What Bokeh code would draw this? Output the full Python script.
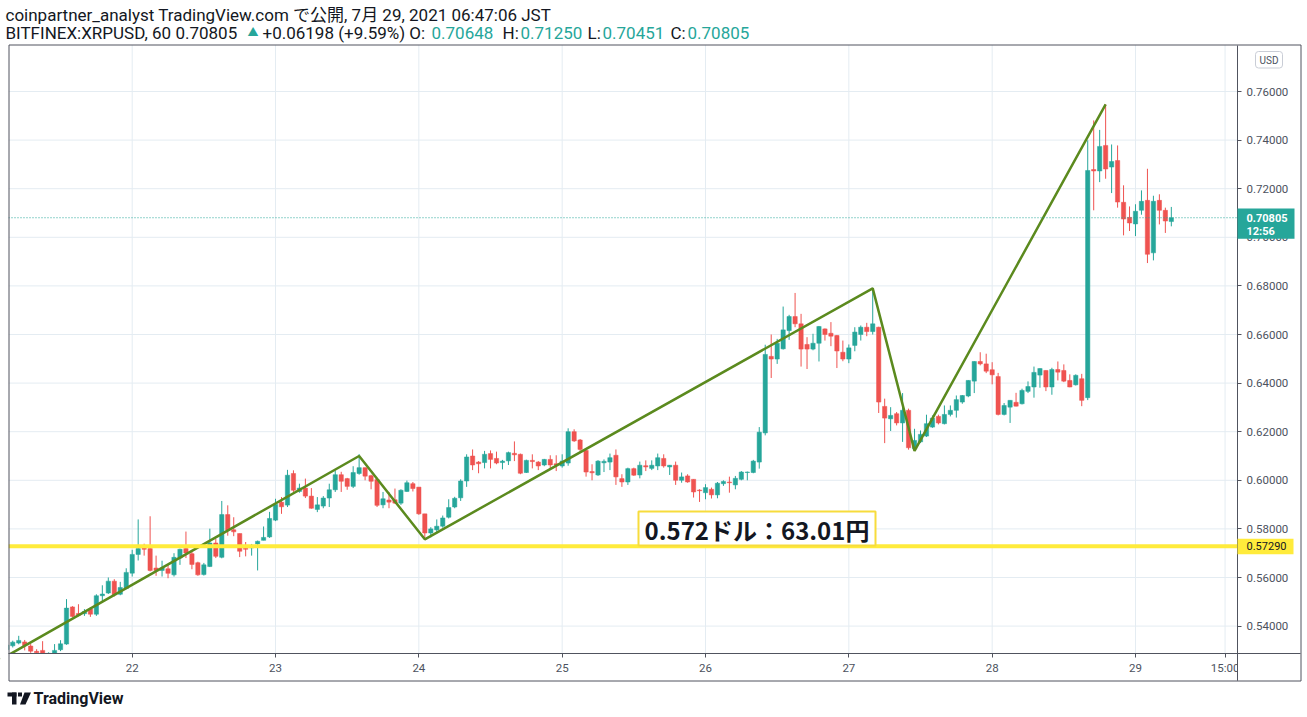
import pandas as pd
from bokeh.plotting import figure
from bokeh.models import (ColumnDataSource, FixedTicker, NumeralTickFormatter,
                          Label, BoxAnnotation, PolyAnnotation)
from bokeh.embed import file_html
from bokeh.resources import INLINE

# ---------------- data ----------------
title_line = "coinpartner_analyst TradingView.com で公開, 7月 29, 2021 06:47:06 JST"
symbol_text = "BITFINEX:XRPUSD, 60 0.70805"
change_text = "+0.06198 (+9.59%) O:"
ohlc_names = ["H:", "L:", "C:"]
ohlc_values = ["0.70648", "0.71250", "0.70451", "0.70805"]
note_text = "0.572ドル：63.01円"

first_candle = "2021-07-21 03:00"   # hourly candles
opens = [
    0.5303, 0.5319, 0.5330, 0.5335, 0.5318, 0.5296, 0.5300, 0.5285, 0.5288, 0.5303,
    0.5326, 0.5479, 0.5452, 0.5451, 0.5470, 0.5449, 0.5525, 0.5536, 0.5585, 0.5531,
    0.5555, 0.5618, 0.5695, 0.5720, 0.5719, 0.5639, 0.5629, 0.5636, 0.5611, 0.5680,
    0.5719, 0.5698, 0.5661, 0.5612, 0.5645, 0.5742, 0.5683, 0.5859, 0.5796, 0.5781,
    0.5720, 0.5722, 0.5738, 0.5753, 0.5767, 0.5836, 0.5910, 0.5898, 0.6028, 0.5954,
    0.5968, 0.5935, 0.5880, 0.5894, 0.5927, 0.5961, 0.6023, 0.6007, 0.5975, 0.6028,
    0.6052, 0.6019, 0.6003, 0.5899, 0.5919, 0.5920, 0.5906, 0.5954, 0.5986, 0.5972,
    0.5862, 0.5783, 0.5796, 0.5811, 0.5848, 0.5890, 0.5928, 0.5997, 0.6100, 0.6075,
    0.6073, 0.6110, 0.6090, 0.6073, 0.6080, 0.6111, 0.6107, 0.6032, 0.6082, 0.6075,
    0.6063, 0.6086, 0.6068, 0.6059, 0.6071, 0.6200, 0.6166, 0.6123, 0.6036, 0.6022,
    0.6072, 0.6075, 0.6103, 0.6007, 0.5993, 0.6048, 0.6022, 0.6060, 0.6049, 0.6059,
    0.6090, 0.6055, 0.6062, 0.6000, 0.6018, 0.6004, 0.5960, 0.5949, 0.5963, 0.5940,
    0.5986, 0.5993, 0.5981, 0.6004, 0.6032, 0.6032, 0.6075, 0.6195, 0.6510, 0.6499,
    0.6541, 0.6616, 0.6674, 0.6644, 0.6559, 0.6540, 0.6564, 0.6623, 0.6605, 0.6596,
    0.6527, 0.6499, 0.6555, 0.6600, 0.6630, 0.6612, 0.6630, 0.6304, 0.6253, 0.6274,
    0.6236, 0.6288, 0.6130, 0.6158, 0.6182, 0.6219, 0.6263, 0.6233, 0.6271, 0.6288,
    0.6322, 0.6347, 0.6408, 0.6489, 0.6479, 0.6455, 0.6427, 0.6271, 0.6301, 0.6321,
    0.6315, 0.6366, 0.6384, 0.6433, 0.6452, 0.6384, 0.6456, 0.6452, 0.6411, 0.6393,
    0.6418, 0.6340, 0.7279, 0.7273, 0.7378, 0.7289, 0.7316, 0.7144, 0.7082, 0.7055,
    0.7111, 0.7152, 0.6936, 0.7152, 0.7111, 0.70648,
]
highs = [
    0.5330, 0.5340, 0.5360, 0.5343, 0.5326, 0.5305, 0.5338, 0.5292, 0.5326, 0.5342,
    0.5511, 0.5482, 0.5490, 0.5470, 0.5478, 0.5531, 0.5568, 0.5600, 0.5593, 0.5582,
    0.5638, 0.5714, 0.5839, 0.5739, 0.5852, 0.5690, 0.5669, 0.5652, 0.5700, 0.5719,
    0.5789, 0.5705, 0.5665, 0.5660, 0.5801, 0.5759, 0.5915, 0.5897, 0.5848, 0.5781,
    0.5746, 0.5738, 0.5752, 0.5810, 0.5870, 0.5924, 0.5931, 0.6043, 0.6041, 0.5986,
    0.6007, 0.5968, 0.5931, 0.5935, 0.5986, 0.6040, 0.6035, 0.6010, 0.6058, 0.6108,
    0.6052, 0.6023, 0.6010, 0.5952, 0.5952, 0.5966, 0.5963, 0.5999, 0.5993, 0.5972,
    0.5862, 0.5807, 0.5839, 0.5855, 0.5922, 0.5932, 0.6004, 0.6107, 0.6127, 0.6079,
    0.6121, 0.6123, 0.6118, 0.6084, 0.6118, 0.6160, 0.6110, 0.6085, 0.6107, 0.6079,
    0.6088, 0.6103, 0.6103, 0.6107, 0.6214, 0.6210, 0.6170, 0.6127, 0.6066, 0.6083,
    0.6086, 0.6110, 0.6127, 0.6025, 0.6052, 0.6052, 0.6077, 0.6082, 0.6082, 0.6110,
    0.6107, 0.6063, 0.6077, 0.6032, 0.6025, 0.6004, 0.5963, 0.5984, 0.5970, 0.5993,
    0.6000, 0.6015, 0.6018, 0.6038, 0.6036, 0.6084, 0.6219, 0.6558, 0.6600, 0.6582,
    0.6715, 0.6681, 0.6771, 0.6685, 0.6589, 0.6603, 0.6635, 0.6625, 0.6651, 0.6598,
    0.6575, 0.6559, 0.6630, 0.6637, 0.6648, 0.6792, 0.6632, 0.6336, 0.6301, 0.6281,
    0.6359, 0.6295, 0.6212, 0.6205, 0.6270, 0.6267, 0.6270, 0.6308, 0.6308, 0.6349,
    0.6351, 0.6412, 0.6490, 0.6527, 0.6521, 0.6486, 0.6442, 0.6318, 0.6330, 0.6360,
    0.6377, 0.6407, 0.6468, 0.6461, 0.6453, 0.6463, 0.6489, 0.6477, 0.6436, 0.6436,
    0.6438, 0.7399, 0.7481, 0.7442, 0.7547, 0.7382, 0.7378, 0.7214, 0.7127, 0.7136,
    0.7193, 0.7282, 0.7171, 0.7177, 0.7122, 0.71250,
]
lows = [
    0.5290, 0.5312, 0.5325, 0.5300, 0.5290, 0.5280, 0.5270, 0.5275, 0.5280, 0.5297,
    0.5323, 0.5437, 0.5440, 0.5442, 0.5438, 0.5442, 0.5500, 0.5532, 0.5522, 0.5527,
    0.5552, 0.5604, 0.5670, 0.5690, 0.5625, 0.5607, 0.5604, 0.5597, 0.5604, 0.5652,
    0.5680, 0.5634, 0.5607, 0.5608, 0.5643, 0.5680, 0.5679, 0.5772, 0.5770, 0.5684,
    0.5687, 0.5690, 0.5629, 0.5753, 0.5763, 0.5832, 0.5862, 0.5890, 0.5952, 0.5949,
    0.5927, 0.5883, 0.5869, 0.5885, 0.5890, 0.5952, 0.5952, 0.5961, 0.5968, 0.6023,
    0.6000, 0.5963, 0.5890, 0.5885, 0.5885, 0.5903, 0.5899, 0.5952, 0.5954, 0.5858,
    0.5761, 0.5765, 0.5786, 0.5805, 0.5843, 0.5885, 0.5915, 0.5973, 0.6042, 0.6029,
    0.6049, 0.6049, 0.6066, 0.6045, 0.6063, 0.6079, 0.6025, 0.6030, 0.6049, 0.6042,
    0.6058, 0.6045, 0.6038, 0.6052, 0.6060, 0.6158, 0.6121, 0.6015, 0.6000, 0.6018,
    0.6034, 0.6042, 0.5981, 0.5973, 0.5981, 0.6018, 0.6008, 0.6038, 0.6042, 0.6042,
    0.6052, 0.6022, 0.5981, 0.5990, 0.5990, 0.5929, 0.5911, 0.5922, 0.5925, 0.5926,
    0.5977, 0.5949, 0.5963, 0.6000, 0.6000, 0.6029, 0.6048, 0.6185, 0.6421, 0.6479,
    0.6538, 0.6578, 0.6630, 0.6468, 0.6458, 0.6535, 0.6489, 0.6575, 0.6552, 0.6462,
    0.6490, 0.6482, 0.6531, 0.6575, 0.6593, 0.6600, 0.6277, 0.6153, 0.6203, 0.6226,
    0.6158, 0.6126, 0.6121, 0.6153, 0.6178, 0.6216, 0.6230, 0.6230, 0.6263, 0.6258,
    0.6315, 0.6342, 0.6359, 0.6473, 0.6441, 0.6395, 0.6267, 0.6267, 0.6236, 0.6304,
    0.6312, 0.6359, 0.6340, 0.6381, 0.6367, 0.6352, 0.6411, 0.6404, 0.6383, 0.6390,
    0.6305, 0.6330, 0.7111, 0.7227, 0.7241, 0.7182, 0.7122, 0.7008, 0.7026, 0.7005,
    0.7093, 0.6894, 0.6905, 0.7053, 0.7018, 0.70451,
]
closes = [
    0.5322, 0.5334, 0.5341, 0.5320, 0.5297, 0.5290, 0.5285, 0.5288, 0.5300, 0.5327,
    0.5474, 0.5440, 0.5445, 0.5460, 0.5449, 0.5525, 0.5532, 0.5585, 0.5529, 0.5559,
    0.5621, 0.5695, 0.5719, 0.5716, 0.5629, 0.5629, 0.5639, 0.5617, 0.5683, 0.5716,
    0.5701, 0.5654, 0.5611, 0.5652, 0.5742, 0.5687, 0.5859, 0.5794, 0.5788, 0.5708,
    0.5716, 0.5724, 0.5749, 0.5765, 0.5843, 0.5901, 0.5891, 0.6021, 0.5959, 0.5968,
    0.5935, 0.5885, 0.5899, 0.5927, 0.5961, 0.6023, 0.5996, 0.5975, 0.6032, 0.6052,
    0.6017, 0.5996, 0.5897, 0.5924, 0.5910, 0.5906, 0.5959, 0.5990, 0.5966, 0.5862,
    0.5783, 0.5800, 0.5811, 0.5845, 0.5888, 0.5926, 0.5997, 0.6096, 0.6063, 0.6068,
    0.6107, 0.6086, 0.6071, 0.6079, 0.6114, 0.6105, 0.6029, 0.6082, 0.6077, 0.6059,
    0.6086, 0.6063, 0.6063, 0.6079, 0.6200, 0.6162, 0.6127, 0.6034, 0.6031, 0.6079,
    0.6078, 0.6093, 0.6014, 0.5993, 0.6048, 0.6021, 0.6062, 0.6055, 0.6062, 0.6093,
    0.6059, 0.6062, 0.6000, 0.6014, 0.5993, 0.5952, 0.5957, 0.5970, 0.5940, 0.5988,
    0.5995, 0.5990, 0.6008, 0.6034, 0.6034, 0.6079, 0.6198, 0.6518, 0.6499, 0.6564,
    0.6619, 0.6674, 0.6644, 0.6540, 0.6540, 0.6564, 0.6633, 0.6600, 0.6593, 0.6532,
    0.6499, 0.6545, 0.6610, 0.6630, 0.6612, 0.6644, 0.6322, 0.6256, 0.6267, 0.6236,
    0.6288, 0.6134, 0.6164, 0.6189, 0.6233, 0.6256, 0.6236, 0.6271, 0.6288, 0.6332,
    0.6349, 0.6411, 0.6489, 0.6479, 0.6449, 0.6434, 0.6271, 0.6308, 0.6329, 0.6305,
    0.6370, 0.6386, 0.6444, 0.6460, 0.6384, 0.6456, 0.6445, 0.6408, 0.6384, 0.6432,
    0.6329, 0.7275, 0.7273, 0.7374, 0.7281, 0.7312, 0.7145, 0.7075, 0.7059, 0.7107,
    0.7148, 0.6930, 0.7148, 0.7111, 0.7067, 0.70805,
]

zigzag_times = ["2021-07-21 02:00", "2021-07-23 14:00", "2021-07-24 01:00",
                "2021-07-27 04:00", "2021-07-27 11:00", "2021-07-28 19:00"]
zigzag_prices = [0.5263, 0.6100, 0.5757, 0.6790, 0.6121, 0.7547]

support_price = 0.5729
support_label = "0.57290"
last_price = 0.70805
last_label = "0.70805"
countdown_label = "12:56"

price_ticks = [0.54, 0.56, 0.58, 0.60, 0.62, 0.64, 0.66, 0.68, 0.70, 0.72, 0.74, 0.76]
time_ticks = ["2021-07-22 00:00", "2021-07-23 00:00", "2021-07-24 00:00", "2021-07-25 00:00",
              "2021-07-26 00:00", "2021-07-27 00:00", "2021-07-28 00:00", "2021-07-29 00:00",
              "2021-07-29 15:00"]
time_labels = ["22", "23", "24", "25", "26", "27", "28", "29", "15:00"]

# ---------------- layout / styles ----------------
UP = "#26a69a"
DOWN = "#ef5350"
AX = "#50535e"
GRID = "#e4ecf2"
TXT = "#131722"
LBL = "#4c525e"
FONT = "Roboto, 'Noto Sans CJK JP', sans-serif"

W, H = 1302, 712
X22, PX_PER_H = 131.7, 5.972      # canvas x of 22 Jul 00:00, px per hour
Y76, PX_PER_P = 91.0, 2430.0      # canvas y of price 0.76, px per 1.0 of price
CH_L, CH_R, OUT_R = 8, 1237, 1300  # chart left, price-axis line, outer right
CH_T, CH_B, OUT_B = 44.5, 653, 680


def hx(px):
    return (px - X22) / PX_PER_H


def py(pyv):
    return 0.76 - (pyv - Y76) / PX_PER_P


def sy(canvas_y):
    return H - canvas_y


origin = pd.Timestamp("2021-07-22 00:00")


def hrs(t):
    return (pd.Timestamp(t) - origin) / pd.Timedelta(hours=1)


times = pd.date_range(first_candle, periods=len(opens), freq="h")
xs = [hrs(t) for t in times]
colors = [UP if c >= o else DOWN for o, c in zip(opens, closes)]
src = ColumnDataSource(dict(
    x=xs, high=highs, low=lows,
    top=[max(o, c) for o, c in zip(opens, closes)],
    bottom=[min(o, c) for o, c in zip(opens, closes)],
    color=colors,
))

p = figure(width=W, height=H, x_range=(hx(0), hx(W)), y_range=(py(H), py(0)),
           output_backend="svg", toolbar_location=None, y_axis_location="right",
           min_border_left=0, min_border_right=0, min_border_top=0, min_border_bottom=0,
           background_fill_color="white", border_fill_color="white")
p.outline_line_color = None
p.grid.visible = False

xt = [int(round(hrs(t))) for t in time_ticks]
p.xaxis.ticker = FixedTicker(ticks=xt)
p.xaxis.major_label_overrides = {k: v for k, v in zip(xt, time_labels)}
p.xaxis.fixed_location = py(CH_B)
p.xaxis.bounds = (hx(CH_L), hx(OUT_R))
p.yaxis.ticker = FixedTicker(ticks=price_ticks)
p.yaxis.formatter = NumeralTickFormatter(format="0.00000")
p.yaxis.fixed_location = hx(CH_R)
p.yaxis.bounds = (py(OUT_B), py(CH_T))
for ax in (p.xaxis[0], p.yaxis[0]):
    ax.level = "overlay"
    ax.axis_line_color = AX
    ax.major_tick_line_color = AX
    ax.major_tick_out = 4
    ax.major_tick_in = 0
    ax.minor_tick_line_color = None
    ax.major_label_text_font = FONT
    ax.major_label_text_font_size = "11.5px"
    ax.major_label_text_color = LBL
p.yaxis.major_label_standoff = 5
p.xaxis.major_label_standoff = 3

# grid lines (from the tick lists), limited to the chart area
p.segment(x0=hx(CH_L), x1=hx(CH_R), y0=price_ticks, y1=price_ticks,
          line_color=GRID, line_width=1, level="underlay")
p.segment(x0=xt, x1=xt, y0=py(CH_B), y1=py(CH_T), line_color=GRID, line_width=1,
          level="underlay")

# candles
p.segment(x0="x", y0="low", x1="x", y1="high", line_color="color", line_width=1, source=src)
p.vbar(x="x", width=0.72, top="top", bottom="bottom", fill_color="color",
       line_color="color", line_width=0.5, source=src)

# zigzag trend lines
p.line([hrs(t) for t in zigzag_times], zigzag_prices, line_color="#5b8a1e", line_width=2.5)

# last price (dotted) and support (yellow) lines
p.segment(x0=hx(CH_L), x1=hx(CH_R), y0=last_price, y1=last_price,
          line_color=UP, line_width=1, line_dash="1 2")
p.segment(x0=hx(CH_L), x1=hx(CH_R), y0=support_price, y1=support_price,
          line_color="#ffeb3b", line_width=4)


def box(l, r, t, b, fill=None, line=None, lw=1, level="annotation", units="screen", **kw):
    ba = BoxAnnotation(left=l, right=r, top=t, bottom=b,
                       left_units="screen", right_units="screen",
                       top_units=units, bottom_units=units,
                       fill_color=fill if fill else "white",
                       fill_alpha=1 if fill else 0,
                       line_color=line if line else "white",
                       line_alpha=1 if line else 0, line_width=lw, level=level, **kw)
    p.add_layout(ba)
    return ba


def lab(x, y, text, y_units="screen", **kw):
    kw.setdefault("text_font", FONT)
    l = Label(x=x, y=y, x_units="screen", y_units=y_units, text=text, **kw)
    p.add_layout(l)
    return l


# masks outside the chart area (left strip, below the time axis line)
box(0, CH_L, H, 0, fill="white")
box(0, W, sy(CH_B + 0.5), 0, fill="white")

# header
lab(5, sy(14), title_line, text_font_size="17px", text_color=TXT, text_baseline="middle")
hdr = sy(32)
segments = [
    (5, symbol_text, TXT, "17px"),
    (247, "▲", UP, "11px"),
    (262, change_text, TXT, "17px"),
    (431, ohlc_values[0], UP, "17px"),
    (502, ohlc_names[0], TXT, "17px"),
    (520, ohlc_values[1], UP, "17px"),
    (587, ohlc_names[1], TXT, "17px"),
    (602, ohlc_values[2], UP, "17px"),
    (670, ohlc_names[2], TXT, "17px"),
    (687, ohlc_values[3], UP, "17px"),
]
for sx, t, c, fs in segments:
    lab(sx, hdr, t, text_font_size=fs, text_color=c, text_baseline="middle")

# note box
box(638, 875, sy(511), sy(545), fill="white", line="#f7dc3c", lw=2)
lab(756.5, sy(528.5), note_text, text_font="Noto Sans CJK JP", text_font_style="bold",
    text_font_size="24px", text_color=TXT, text_align="center", text_baseline="middle")

# mask the time-axis label overflow into the price scale, redraw lines
box(CH_R + 0.5, W, sy(CH_B + 0.5), sy(OUT_B - 0.5), fill="white", level="overlay")
box(CH_R - 0.5, CH_R + 0.5, sy(CH_B), sy(OUT_B), fill=AX, level="overlay")
box(CH_L + 0.5, OUT_R + 0.5, sy(CH_T), sy(OUT_B + 0.5), line=AX, level="overlay")

# price tags on the price scale
box(CH_R, 1294, last_price + 9.3 / PX_PER_P, last_price - 21.0 / PX_PER_P,
    fill=UP, level="overlay", units="data")
lab(1246, last_price, last_label, y_units="data", text_font_style="bold",
    text_font_size="11px", text_color="white", text_baseline="middle", level="overlay")
lab(1246, last_price, countdown_label, y_units="data", y_offset=-13.4,
    text_font_style="bold", text_font_size="11px", text_color="white",
    text_baseline="middle", level="overlay")
box(CH_R, 1293, support_price + 7.5 / PX_PER_P, support_price - 8.0 / PX_PER_P,
    fill="#ffeb3b", level="overlay", units="data")
lab(1246, support_price, support_label, y_units="data", text_font_size="11px",
    text_color=TXT, text_baseline="middle", level="overlay")

# currency badge
ub = dict(border_radius=3) if "border_radius" in BoxAnnotation.properties() else {}
box(1255, 1282, sy(51), sy(67.5), fill="white", line="#c9cdd6", **ub)
lab(1268.5, sy(59.5), "USD", text_font_size="10px", text_color=LBL,
    text_align="center", text_baseline="middle")

# TradingView logo
box(7, 16, sy(692), sy(696), fill=TXT)
box(11.5, 16, sy(692), sy(704), fill=TXT)
box(17.5, 21.5, sy(692), sy(696), fill=TXT)
p.add_layout(PolyAnnotation(xs=[24, 30.5, 25, 19.5], ys=[sy(692), sy(692), sy(704), sy(704)],
                            xs_units="screen", ys_units="screen",
                            fill_color=TXT, fill_alpha=1, line_alpha=0))
lab(33, sy(698), "TradingView", text_font="Roboto", text_font_style="bold",
    text_font_size="16px", text_color=TXT, text_baseline="middle")

open("out.html", "w").write(file_html(p, INLINE))
